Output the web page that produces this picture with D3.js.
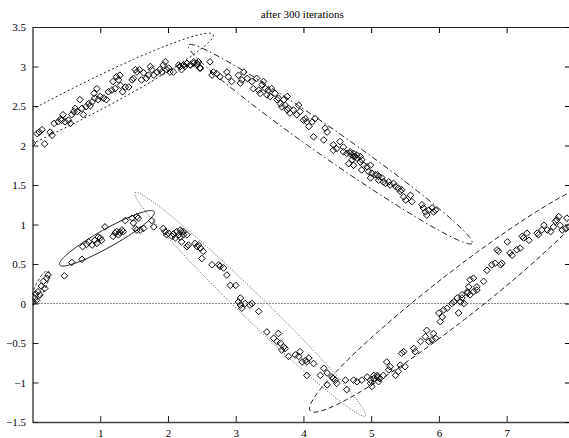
<!DOCTYPE html>
<html>
<head>
<meta charset="utf-8">
<script src="https://cdn.jsdelivr.net/npm/d3@7"></script>
<style>
  html, body { margin: 0; padding: 0; background: #fff; }
  svg { display: block; }
  text { font-family: "Liberation Serif", "Times New Roman", serif; fill: #000; }
</style>
</head>
<body>
<script>
// Sample positions, grouped by the branch of the curve they lie on.
const upperRising = [
  [0.00,2.03],[0.18,2.02],[0.07,2.15],[0.10,2.17],[0.14,2.20],[0.26,2.17],[0.29,2.13],[0.32,2.28],
  [0.38,2.30],[0.41,2.33],[0.45,2.39],[0.43,2.32],[0.48,2.30],[0.53,2.32],[0.56,2.28],[0.58,2.39],
  [0.61,2.43],[0.63,2.47],[0.66,2.43],[0.70,2.58],[0.73,2.47],[0.75,2.39],[0.79,2.49],[0.83,2.53],
  [0.85,2.50],[0.88,2.55],[0.91,2.66],[0.92,2.60],[0.95,2.72],[0.97,2.58],[1.00,2.62],[1.05,2.60],
  [1.09,2.58],[1.12,2.68],[1.17,2.70],[1.19,2.81],[1.22,2.72],[1.24,2.87],[1.27,2.83],[1.29,2.89],
  [1.30,2.76],[1.33,2.68],[1.37,2.74],[1.42,2.74],[1.47,2.83],[1.49,2.85],[1.52,2.96],[1.54,2.93],
  [1.58,2.96],[1.61,2.83],[1.64,2.92],[1.68,2.85],[1.71,2.89],[1.74,3.00],[1.76,2.96],[1.79,2.89],
  [1.84,2.93],[1.88,2.96],[1.91,2.93],[1.93,3.02],[1.96,3.06],[1.98,2.96],[2.01,2.98],[2.03,2.93],
  [2.08,2.93],[2.16,3.02],[2.18,3.00],[2.20,2.96],[2.23,3.02],[2.25,3.00],[2.28,3.04],[2.33,3.02],
  [2.38,3.04],[2.43,3.02],[2.47,2.98]
];
const upperFalling = [
  [2.18,3.00],[2.23,3.02],[2.28,3.04],[2.33,3.02],[2.38,3.06],[2.43,3.04],[2.48,2.98],[2.45,3.06],
  [2.62,3.06],[2.67,2.93],[2.65,2.89],[2.72,2.91],[2.77,2.87],[2.87,2.93],[2.89,2.87],[2.94,2.81],
  [3.04,2.89],[3.09,2.83],[3.07,2.79],[3.12,2.93],[3.17,2.85],[3.24,2.81],[3.26,2.72],[3.31,2.85],
  [3.34,2.70],[3.36,2.66],[3.39,2.77],[3.41,2.81],[3.44,2.72],[3.46,2.64],[3.48,2.70],[3.51,2.62],
  [3.53,2.72],[3.58,2.66],[3.61,2.58],[3.63,2.60],[3.66,2.53],[3.68,2.49],[3.71,2.58],[3.73,2.51],
  [3.76,2.62],[3.78,2.47],[3.76,2.45],[3.80,2.41],[3.85,2.45],[3.90,2.39],[3.93,2.51],[3.95,2.43],
  [4.00,2.32],[4.03,2.34],[4.05,2.30],[4.08,2.24],[4.13,2.30],[4.17,2.34],[4.15,2.11],[4.30,2.07],
  [4.32,2.22],[4.35,2.17],[4.44,2.01],[4.49,1.96],[4.54,2.05],[4.59,1.98],[4.64,1.90],[4.69,1.92],
  [4.74,1.90],[4.76,1.86],[4.79,1.84],[4.84,1.86],[4.86,1.82],
  [4.44,1.94],[4.59,1.92],[4.69,1.90],[4.74,1.86],[4.79,1.88],[4.72,1.82],[4.84,1.79],[4.67,1.77],
  [4.74,1.75],[4.89,1.75],[4.94,1.73],[4.86,1.69],[4.96,1.67],[5.01,1.65],[5.09,1.63],[4.99,1.59],
  [5.11,1.56],
  [4.99,1.75],[5.06,1.63],[5.11,1.61],[5.16,1.59],[5.21,1.52],[5.18,1.54],[5.26,1.54],[5.28,1.50],
  [5.33,1.52],[5.36,1.48],[5.40,1.46],[5.43,1.42],[5.45,1.44],[5.48,1.35],[5.51,1.31],[5.58,1.37],
  [5.60,1.29],[5.75,1.25],[5.77,1.21],[5.80,1.16],[5.85,1.18],[5.90,1.21],[5.92,1.16],[5.95,1.18],
  [5.82,1.12]
];
const lowerRising = [
  [0.01,0.02],[0.03,0.07],[0.06,0.04],[0.08,0.15],[0.11,0.11],[0.16,0.28],[0.18,0.19],[0.21,0.32],
  [0.23,0.36],[0.05,0.12],[0.13,0.22],
  [0.47,0.35],[0.58,0.52],[0.73,0.56],[0.74,0.72],[0.80,0.75],[0.83,0.78],[0.88,0.74],[0.92,0.80],
  [0.97,0.84],[0.95,0.76],[1.00,0.83],[1.02,0.80],[1.07,0.97],[1.19,0.85],[1.22,0.89],[1.24,0.91],
  [1.27,0.87],[1.29,0.90],[1.32,0.93],[1.34,0.91],[1.37,1.05],[1.47,1.08],[1.49,1.02],[1.52,0.95],
  [1.54,1.10],[1.54,0.93],[1.56,1.08],[1.59,0.93],[1.64,0.95],[1.76,1.05],[1.79,0.97]
];
const lowerFalling = [
  [1.93,0.95],[1.96,0.91],[1.98,0.87],[2.01,0.89],[2.06,0.85],[2.08,0.88],[2.11,0.83],[2.13,0.91],
  [2.16,0.87],[2.18,0.84],[2.20,0.91],[2.23,0.87],[2.28,0.72],[2.43,0.72],[2.48,0.70],
  [2.18,0.93],[2.23,0.91],[2.28,0.87],[2.20,0.78],[2.30,0.74],[2.40,0.76],[2.45,0.74],[2.52,0.66],
  [2.50,0.57],[2.65,0.49],[2.75,0.49],[2.77,0.47],[2.82,0.45],[2.87,0.36],[2.92,0.23],[3.00,0.23],
  [3.07,0.07],
  [3.04,0.02],[3.07,-0.02],[3.09,-0.06],[3.14,0.00],[3.21,-0.02],[3.24,0.00],[3.34,-0.10],[3.46,-0.36],
  [3.56,-0.44],[3.61,-0.48],[3.63,-0.38],[3.66,-0.50],[3.68,-0.59],[3.71,-0.55],[3.73,-0.57],[3.78,-0.67],
  [3.88,-0.65],[3.93,-0.67],[3.95,-0.61],[3.98,-0.74],[4.03,-0.72],[4.05,-0.74],[4.08,-0.69],[4.15,-0.76],
  [4.05,-0.91],[4.25,-0.91],[4.30,-0.82],[4.35,-0.88],[4.42,-0.93],[4.44,-0.95],[4.47,-0.97],[4.49,-1.01],
  [4.35,-1.03],[4.62,-0.97],[4.64,-1.09]
];
const lowerClimbing = [
  [4.74,-0.97],[4.79,-0.99],[4.86,-0.97],[4.94,-0.93],[4.99,-1.01],[5.01,-1.05],[5.04,-0.95],[5.09,-0.91],
  [5.11,-0.99],
  [4.99,-0.97],[5.04,-0.91],[5.09,-0.93],[5.13,-0.95],[5.18,-0.91],[5.23,-0.74],[5.26,-0.84],[5.28,-0.80],
  [5.36,-0.91],[5.40,-0.86],[5.43,-0.78],[5.45,-0.63],[5.48,-0.61],[5.50,-0.80],[5.63,-0.57],[5.65,-0.61],
  [5.73,-0.48],[5.80,-0.42],[5.82,-0.34],[5.85,-0.48],[5.90,-0.46],[5.92,-0.38],[5.95,-0.44],[6.00,-0.12],
  [6.02,-0.23],[6.05,-0.17],[6.07,-0.08],[6.12,-0.06],[6.19,0.00],[6.22,0.02],[6.29,-0.12],[6.32,0.02],
  [6.34,0.07],[6.37,0.00],[6.42,0.13],[6.46,0.11],[6.51,0.15],[6.56,0.17],
  [6.27,0.07],[6.34,0.11],[6.42,0.15],[6.46,0.30],[6.44,0.21],[6.51,0.32],[6.56,0.21],[6.66,0.28],
  [6.71,0.42],[6.78,0.49],[6.83,0.51],[6.86,0.68],[6.88,0.66],[6.91,0.49],[6.93,0.51],[7.01,0.78],
  [7.05,0.64],[7.08,0.61],[7.15,0.68],[7.20,0.70],[7.23,0.85],[7.25,0.83],[7.30,0.89],[7.33,0.80],
  [7.45,0.89],[7.47,0.87],[7.52,0.93],[7.55,0.99],[7.60,0.93],[7.65,0.91],[7.69,0.97],[7.72,1.04],
  [7.74,1.06],[7.77,1.10],[7.79,0.99],[7.82,0.93],[7.87,0.95],[7.89,1.08],[7.92,0.97]
];

// Local model components: centre and two conjugate half-axes (data units).
const components = [
  { name: "c1", cx: 0.120, cy: 0.215, ux: 0.111, uy: 0.196, vx: 0.066, vy: -0.028, style: "dash" },
  { name: "c2", cx: 1.098, cy: 0.825, ux: 0.698, uy: 0.337, vx: 0.065, vy: -0.099, style: "solid" },
  { name: "c3", cx: 3.214, cy: -0.011, ux: -1.699, uy: 1.413, vx: 0.1285, vy: 0.1134, style: "dot" },
  { name: "c4", cx: 0.629, cy: 2.513, ux: 2.038, uy: 0.891, vx: 0.107, vy: -0.180, style: "shortdash" },
  { name: "c5", cx: 4.394, cy: 2.017, ux: 2.095, uy: -1.255, vx: -0.118, vy: -0.145, style: "dashdot" },
  { name: "c6", cx: 6.242, cy: 0.076, ux: 2.142, uy: 1.434, vx: 0.209, vy: -0.229, style: "longdash" }
];

const xTicks = [1, 2, 3, 4, 5, 6, 7];
const yTicks = [-1.5, -1, -0.5, 0, 0.5, 1, 1.5, 2, 2.5, 3, 3.5];
const title = "after 300 iterations";

const W = 569, H = 438;
const margin = { left: 32.5, top: 27, right: 571, bottom: 422 };

const x = d3.scaleLinear().domain([0, 7.95]).range([margin.left, margin.right]);
const y = d3.scaleLinear().domain([-1.5, 3.5]).range([margin.bottom, margin.top]);

const svg = d3.select("body").append("svg").attr("width", W).attr("height", H);

svg.append("defs").append("clipPath").attr("id", "plot")
  .append("rect")
  .attr("x", margin.left).attr("y", margin.top)
  .attr("width", margin.right - margin.left).attr("height", margin.bottom - margin.top);

const fmt = d => d3.format("")(d);

// Axes with inward ticks
svg.append("g")
  .attr("transform", `translate(0,${margin.bottom})`)
  .call(d3.axisBottom(x).tickValues(xTicks).tickSizeInner(-6).tickSizeOuter(0).tickPadding(7.5).tickFormat(fmt))
  .call(g => g.select(".domain").attr("stroke", "#444").attr("stroke-width", 1.4))
  .call(g => g.selectAll(".tick line").attr("stroke", "#222"))
  .call(g => g.selectAll("text").attr("font-size", 11).attr("font-family", "Liberation Serif, serif"));

svg.append("g")
  .attr("transform", `translate(${margin.left},0)`)
  .call(d3.axisLeft(y).tickValues(yTicks).tickSizeInner(-6).tickSizeOuter(0).tickPadding(6.5).tickFormat(fmt))
  .call(g => g.select(".domain").attr("stroke", "#555").attr("stroke-width", 1.6))
  .call(g => g.selectAll(".tick line").attr("stroke", "#222"))
  .call(g => g.selectAll("text").attr("font-size", 11).attr("font-family", "Liberation Serif, serif"));

svg.append("g")
  .attr("transform", `translate(0,${margin.top})`)
  .call(d3.axisTop(x).tickValues(xTicks).tickSizeInner(-6).tickSizeOuter(0).tickFormat(""))
  .call(g => g.select(".domain").attr("stroke", "#222").attr("stroke-width", 1));

svg.append("g")
  .attr("transform", `translate(${margin.right},0)`)
  .call(d3.axisRight(y).tickValues(yTicks).tickSizeInner(-6).tickSizeOuter(0).tickFormat(""))
  .call(g => g.select(".domain").attr("stroke", "#222").attr("stroke-width", 1));

// Title
svg.append("text")
  .attr("x", (margin.left + margin.right) / 2 + 0.5)
  .attr("y", 18)
  .attr("text-anchor", "middle")
  .attr("font-size", 11)
  .text(title);

const plot = svg.append("g").attr("clip-path", "url(#plot)");

// Zero reference line
plot.append("line")
  .attr("x1", margin.left).attr("x2", margin.right)
  .attr("y1", y(0)).attr("y2", y(0))
  .attr("stroke", "#000").attr("stroke-width", 0.9)
  .attr("stroke-dasharray", "1,2");

// Component ellipses
const dashes = {
  solid: null,
  dash: "3,2",
  dot: "1,1.6",
  shortdash: "2,2.5",
  dashdot: "6,3,1.5,3",
  longdash: "5,3"
};
const steps = d3.range(0, 181).map(i => (i / 180) * 2 * Math.PI);
const line = d3.line().x(d => x(d[0])).y(d => y(d[1]));

plot.selectAll("path.component")
  .data(components)
  .join("path")
  .attr("class", "component")
  .attr("d", c => line(steps.map(t => [
    c.cx + c.ux * Math.cos(t) + c.vx * Math.sin(t),
    c.cy + c.uy * Math.cos(t) + c.vy * Math.sin(t)
  ])))
  .attr("fill", "none")
  .attr("stroke", c => c.style === "dot" ? "#333" : "#000")
  .attr("stroke-width", c => c.style === "dot" ? 0.8 : 0.9)
  .attr("stroke-dasharray", c => dashes[c.style]);

// Samples as open diamonds
const samples = [].concat(upperRising, upperFalling, lowerRising, lowerFalling, lowerClimbing);
const diamond = d3.symbol(d3.symbolSquare, 22);

plot.selectAll("path.sample")
  .data(samples)
  .join("path")
  .attr("class", "sample")
  .attr("transform", d => `translate(${x(d[0])},${y(d[1])}) rotate(45)`)
  .attr("d", diamond)
  .attr("fill", "none")
  .attr("stroke", "#000")
  .attr("stroke-width", 0.9);
</script>
</body>
</html>
